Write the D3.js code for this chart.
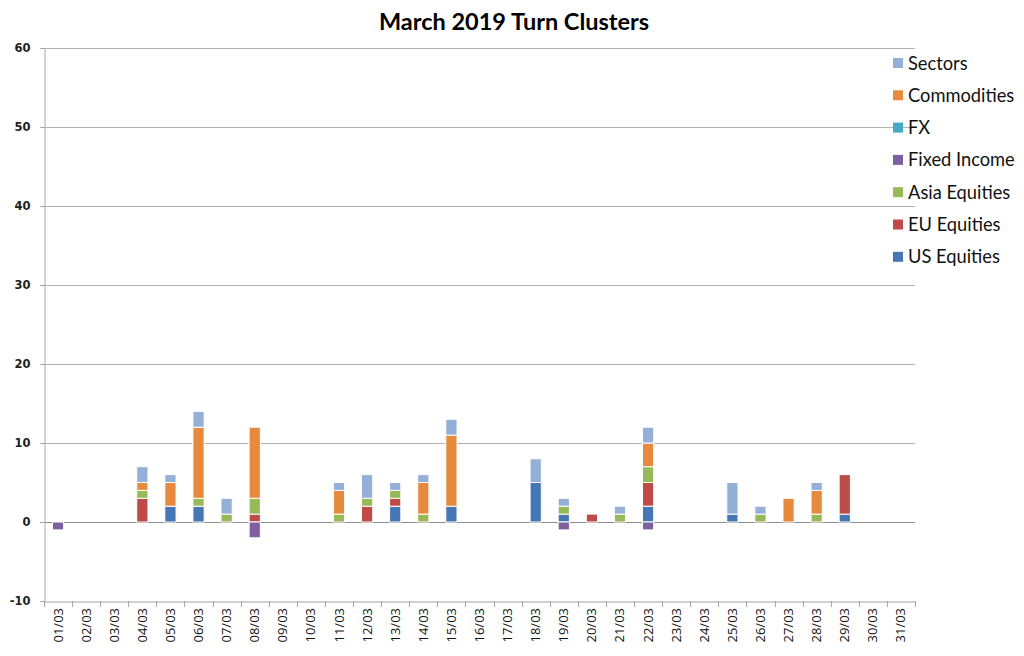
<!DOCTYPE html>
<html><head><meta charset="utf-8">
<script src="https://cdn.jsdelivr.net/npm/d3@7"></script>
<style>body{margin:0;background:#fff;}svg{display:block;}</style>
</head><body>
<svg id="c" width="1024" height="656"></svg>
<script>
const days = ["01/03","02/03","03/03","04/03","05/03","06/03","07/03","08/03","09/03","10/03","11/03","12/03","13/03","14/03","15/03","16/03","17/03","18/03","19/03","20/03","21/03","22/03","23/03","24/03","25/03","26/03","27/03","28/03","29/03","30/03","31/03"];
const seriesNames = ["US Equities","EU Equities","Asia Equities","Fixed Income","FX","Commodities","Sectors"];
const usEquities   = [0,0,0,0,2,2,0,0,0,0,0,0,2,0,2,0,0,5,1,0,0,2,0,0,1,0,0,0,1,0,0];
const euEquities   = [0,0,0,3,0,0,0,1,0,0,0,2,1,0,0,0,0,0,0,1,0,3,0,0,0,0,0,0,5,0,0];
const asiaEquities = [0,0,0,1,0,1,1,2,0,0,1,1,1,1,0,0,0,0,1,0,1,2,0,0,0,1,0,1,0,0,0];
const fixedIncome  = [-1,0,0,0,0,0,0,-2,0,0,0,0,0,0,0,0,0,0,-1,0,0,-1,0,0,0,0,0,0,0,0,0];
const fx           = [0,0,0,0,0,0,0,0,0,0,0,0,0,0,0,0,0,0,0,0,0,0,0,0,0,0,0,0,0,0,0];
const commodities  = [0,0,0,1,3,9,0,9,0,0,3,0,0,4,9,0,0,0,0,0,0,3,0,0,0,0,3,3,0,0,0];
const sectors      = [0,0,0,2,1,2,2,0,0,0,1,3,1,1,2,0,0,3,1,0,1,2,0,0,4,1,0,1,0,0,0];
const yTicks = [-10,0,10,20,30,40,50,60];
const colors = ["#4677B4","#BE4B48","#97B957","#7D60A0","#46AAC5","#E68A3E","#94AFD8"];

const seriesValues = [usEquities,euEquities,asiaEquities,fixedIncome,fx,commodities,sectors];
const table = days.map((d,i)=>{const o={day:d}; seriesNames.forEach((s,j)=>o[s]=seriesValues[j][i]); return o;});

const svg = d3.select("#c");
const pLeft=44, pRight=915, pTop=48, pBottom=601;
const x = d3.scaleBand().domain(days).range([pLeft,pRight]).padding(0);
const y = d3.scaleLinear().domain([-10,60]).range([pBottom,pTop]);

// title
svg.append("text").attr("x",514).attr("y",30).attr("text-anchor","middle")
  .attr("font-family","Lato, 'Open Sans', sans-serif").attr("font-weight","bold").attr("font-size",23.5)
  .attr("fill","#000").text("March 2019 Turn Clusters");

// gridlines
svg.append("g").selectAll("line").data(yTicks.filter(t=>t>-10)).join("line")
  .attr("x1",pLeft-4).attr("x2",pRight).attr("y1",d=>Math.round(y(d))+0.5).attr("y2",d=>Math.round(y(d))+0.5)
  .attr("stroke",d=>d===0?"#8c8c8c":"#b3b3b3").attr("stroke-width",1);

// y axis
const ya = svg.append("g").attr("transform",`translate(${pLeft}.5,0)`)
  .call(d3.axisLeft(y).tickValues(yTicks).tickSize(4).tickPadding(10).tickFormat(d=>String(d)));
ya.select(".domain").attr("stroke","#a6a6a6");
ya.selectAll(".tick line").attr("stroke","#a6a6a6");
ya.selectAll("text").attr("font-family","'DejaVu Sans', sans-serif").attr("font-weight","bold").attr("font-size",11.5).attr("fill","#222");

// x axis at bottom
const xa = svg.append("g").attr("transform",`translate(0,${pBottom}.5)`)
  .call(d3.axisBottom(x).tickSize(0).tickPadding(0));
xa.select(".domain").attr("stroke","#a6a6a6");
xa.selectAll(".tick text").remove();
svg.append("g").selectAll("line").data(days.concat(["end"])).join("line")
  .attr("x1",(d,i)=>Math.round(i<days.length?x(d):pRight)+0.5).attr("x2",(d,i)=>Math.round(i<days.length?x(d):pRight)+0.5)
  .attr("y1",pBottom).attr("y2",pBottom+6).attr("stroke","#a6a6a6");
svg.append("g").selectAll("text").data(days).join("text")
  .attr("transform",d=>`translate(${x(d)+x.bandwidth()/2+4.5},608) rotate(-90)`)
  .attr("text-anchor","end").attr("font-family","'Open Sans', sans-serif").attr("font-size",13).attr("fill","#111")
  .text(d=>d);

// stacked bars
const stack = d3.stack().keys(seriesNames).offset(d3.stackOffsetDiverging);
const stacked = stack(table);
const bw = x.bandwidth()*0.4;
const gb = svg.append("g");
stacked.forEach((layer,j)=>{
  gb.append("g").attr("fill",colors[j]).selectAll("rect")
    .data(layer.filter(d=>d[1]-d[0]!==0)).join("rect")
    .attr("x",d=>x(d.data.day)+(x.bandwidth()-bw)/2)
    .attr("width",bw)
    .attr("y",d=>y(Math.max(d[0],d[1])))
    .attr("height",d=>Math.abs(y(d[0])-y(d[1])))
    .attr("stroke","#fff").attr("stroke-width",1);
});

// legend (top to bottom reversed order)
const legendItems = seriesNames.map((s,j)=>({name:s,color:colors[j]})).reverse();
const lg = svg.append("g").selectAll("g").data(legendItems).join("g")
  .attr("transform",(d,i)=>`translate(893,${63+i*32.3})`);
lg.append("rect").attr("x",0).attr("y",-5).attr("width",10).attr("height",10).attr("fill",d=>d.color);
lg.append("text").attr("x",15).attr("y",6.5).attr("font-family","Lato, 'Open Sans', sans-serif").attr("font-size",18.3)
  .attr("fill","#111").text(d=>d.name);
</script>
</body></html>
